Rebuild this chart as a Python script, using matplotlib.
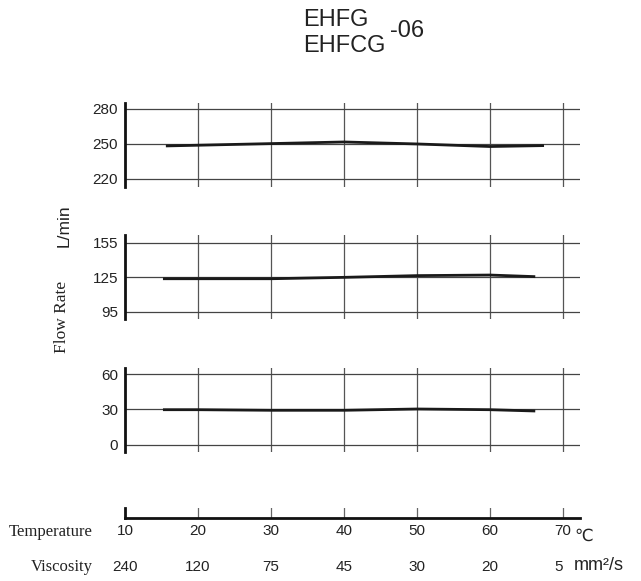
import matplotlib
matplotlib.use("Agg")
import matplotlib.pyplot as plt
import matplotlib.transforms as mtransforms

# Datos
temp_ticks = [10, 20, 30, 40, 50, 60, 70]
visc_labels = ["240", "120", "75", "45", "30", "20", "5"]

temp_1 = [15.6, 20, 30, 40, 50, 60, 67.4]
flow_1 = [248.3, 248.9, 250.3, 251.7, 250.0, 247.8, 248.6]
yticks_1 = [220, 250, 280]

temp_2 = [15.2, 20, 30, 40, 50, 60, 66.2]
flow_2 = [123.8, 123.8, 123.8, 125.0, 126.5, 127.0, 125.6]
yticks_2 = [95, 125, 155]

temp_3 = [15.2, 20, 30, 40, 50, 60, 66.2]
flow_3 = [29.7, 29.7, 29.2, 29.2, 30.3, 29.7, 28.6]
yticks_3 = [0, 30, 60]

W, H = 641, 581
fig = plt.figure(figsize=(W / 100, H / 100), dpi=100)

sans = ["Liberation Sans", "DejaVu Sans"]
serif = ["Liberation Serif", "DejaVu Serif"]

x0, x1 = 125, 580
xlim = (10, 10 + (x1 - x0) / 7.3)


def px_axes(left, top, right, bottom):
    return fig.add_axes([left / W, 1 - bottom / H, (right - left) / W, (bottom - top) / H])


def panel(top, bottom, ylim, yticks, tx, fy):
    ax = px_axes(x0, top, x1, bottom)
    ax.set_xlim(*xlim)
    ax.set_ylim(*ylim)
    for s in ["top", "right", "bottom"]:
        ax.spines[s].set_visible(False)
    ax.spines["left"].set_linewidth(2)
    ax.spines["left"].set_color("#111")
    for t in temp_ticks[1:]:
        ax.axvline(t, color="#555", lw=0.9, zorder=1)
    for v in yticks:
        ax.axhline(v, color="#444", lw=0.9, zorder=1)
    ax.set_xticks([])
    ax.set_yticks(yticks)
    ax.tick_params(axis="y", length=0, pad=5, labelsize=11)
    for lab in ax.get_yticklabels():
        lab.set_family(sans)
        lab.set_color("#222")
    ax.plot(tx, fy, color="#1a1a1a", lw=2.0, solid_capstyle="butt", zorder=3)
    ax.patch.set_alpha(0)
    return ax


panel(103, 187, (213.1, 285.1), yticks_1, temp_1, flow_1)
panel(235, 319, (88.9, 161.7), yticks_2, temp_2, flow_2)
panel(368, 452, (-6.2, 65.1), yticks_3, temp_3, flow_3)

# eje inferior de temperatura
axb = px_axes(x0, 508, x1, 518)
axb.set_xlim(*xlim)
axb.set_ylim(0, 1)
for s in ["top", "right"]:
    axb.spines[s].set_visible(False)
axb.spines["left"].set_linewidth(2)
axb.spines["bottom"].set_linewidth(2)
axb.spines["left"].set_color("#111")
axb.spines["bottom"].set_color("#111")
for t in temp_ticks[1:]:
    axb.axvline(t, color="#666", lw=0.9)
axb.set_yticks([])
axb.set_xticks(temp_ticks)
axb.set_xticklabels([str(t) for t in temp_ticks])
axb.tick_params(axis="x", length=0, pad=4, labelsize=11)
for lab in axb.get_xticklabels():
    lab.set_family(sans)
    lab.set_color("#222")
axb.patch.set_alpha(0)

trans = mtransforms.blended_transform_factory(axb.transData, fig.transFigure)
for t, v in zip(temp_ticks, visc_labels):
    fig.text(t if v != "5" else 69.4, 1 - 567 / H, v, transform=trans, ha="center", va="center",
             fontsize=11, family=sans, color="#222")
fig.text(574 / W, 1 - 566 / H, "mm²/s", ha="left", va="center", fontsize=13, family=sans, color="#222")
fig.text(574 / W, 1 - 536 / H, "℃", ha="left", va="center", fontsize=12, family=["DejaVu Sans"], color="#222")

fig.text(93 / W, 1 - 532 / H, "Temperature", ha="right", va="center", fontsize=12, family=serif, color="#222")
fig.text(93 / W, 1 - 567 / H, "Viscosity", ha="right", va="center", fontsize=12, family=serif, color="#222")

fig.text(62 / W, 1 - 317 / H, "Flow Rate", rotation=90, ha="center", va="center", fontsize=12.5, family=serif, color="#222")
fig.text(64 / W, 1 - 226 / H, "L/min", rotation=90, ha="center", va="center", fontsize=12.5, family=sans, color="#222")

# titulo
fig.text(303 / W, 1 - 20 / H, "EHFG", ha="left", va="center", fontsize=17, family=sans, color="#222")
fig.text(303 / W, 1 - 45.5 / H, "EHFCG", ha="left", va="center", fontsize=17, family=sans, color="#222")
fig.text(390 / W, 1 - 31 / H, "-06", ha="left", va="center", fontsize=17, family=sans, color="#222")

fig.savefig("out.png", dpi=100, facecolor="white")
